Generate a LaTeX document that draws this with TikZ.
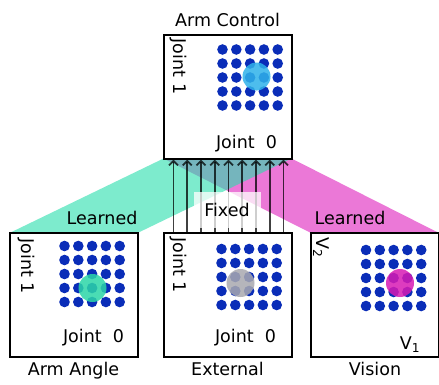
\documentclass[tikz,border=0pt]{standalone}
\usepackage{fontspec}
\setmainfont{DejaVu Sans}
\usepackage{tikz}
\usetikzlibrary{arrows.meta, positioning, calc, backgrounds}
\definecolor{dotblue}{HTML}{0A2DB8}
\definecolor{learnteal}{HTML}{26DEAC}
\definecolor{learnpink}{HTML}{DE1EBC}
\definecolor{ctrlcyan}{HTML}{2FB2EA}
\definecolor{angleteal}{HTML}{2BD6A8}
\definecolor{extgray}{HTML}{A9A9B0}
\definecolor{visionpink}{HTML}{D81AB4}

% 5x5 grid of units inside a panel: #1 panel, #2 offset of first unit
\newcommand{\dotgrid}[2]{%
  \foreach \i in {0,...,4}
    \foreach \j in {0,...,4}
      \fill[dotblue] ([shift={#2}]#1.north west) ++(\i*13.8,\j*14) circle(5.3pt);
}

\tikzset{
  panel/.style={draw, line width=2pt, fill=white, minimum width=128pt,
                minimum height=124pt, inner sep=0pt, outer sep=0pt},
  axislabel/.style={rotate=-90, inner sep=0pt},
  fixarrow/.style={-{Straight Barb[length=4.5pt,width=9pt]}, line width=1.8pt,
                   draw opacity=0.75},
  fixbox/.style={fill=white, fill opacity=0.75, text opacity=1,
                 minimum width=67pt, minimum height=36pt},
  every node/.append style={font=\fontsize{17.5}{20}\selectfont}
}

\begin{document}
\begin{tikzpicture}[x=1pt,y=-1pt]
\useasboundingbox (0,0) rectangle (439,384);

% Panels
\node[panel] (ctrl)   at (227.5,96.5) {};
\node[panel] (angle)  at (73.5,295)   {};
\node[panel] (ext)    at (227.5,295)  {};
\node[panel] (vision) at (375,295)    {};

% Titles
\node[above=4pt of ctrl]   (ctrltitle)   {Arm Control};
\node[below=2pt of angle]  (angletitle)  {Arm Angle};
\node[below=2pt of ext]    (exttitle)    {External};
\node[below=2pt of vision] (visiontitle) {Vision};

% Learned maps
\begin{scope}[on background layer]
\fill[learnpink, fill opacity=0.6] (ctrl.south west) -- (ctrl.south east)
  -- (vision.north east) -- (vision.north west) -- cycle;
\fill[learnteal, fill opacity=0.6] (ctrl.south west) -- (ctrl.south east)
  -- (angle.north east) -- (angle.north west) -- cycle;
\end{scope}

% Fixed one-to-one connections
\foreach \k in {0,...,8}
  \draw[fixarrow] ([xshift=10+\k*13.75]ext.north west) -- ([xshift=10+\k*13.75,yshift=-1pt]ctrl.south west);

% Unit grids
\dotgrid{ctrl}{(59,15)}
\dotgrid{angle}{(55,13)}
\dotgrid{ext}{(58,16)}
\dotgrid{vision}{(55,17)}

% Activity bumps
\fill[ctrlcyan, fill opacity=0.85] ([shift={(93,42)}]ctrl.north west) circle(14pt);
\fill[angleteal, fill opacity=0.85] ([shift={(83,55)}]angle.north west) circle(14pt);
\fill[extgray, fill opacity=0.85] ([shift={(77,50)}]ext.north west) circle(14pt);
\fill[visionpink, fill opacity=0.85] ([shift={(89,50)}]vision.north west) circle(14pt);

% Axis labels
\node[axislabel] (ctrlj1)  at ([shift={(15,32)}]ctrl.north west)  {Joint 1};
\node[axislabel] (anglej1) at ([shift={(17,33)}]angle.north west) {Joint 1};
\node[axislabel] (extj1)   at ([shift={(15,32)}]ext.north west)   {Joint 1};
\node[axislabel] (visv2)   at ([shift={(10,15)}]vision.north west) {V\textsubscript{2}};
\node (ctrlj0)  at ([shift={(-45,-15)}]ctrl.south east)  {Joint\ \ 0};
\node (anglej0) at ([shift={(-44,-19)}]angle.south east) {Joint\ \ 0};
\node (extj0)   at ([shift={(-46,-19)}]ext.south east)   {Joint\ \ 0};
\node (visv1)   at ([shift={(-29,-12)}]vision.south east) {V\textsubscript{1}};

% Map labels
\node (learnleft)  at (102,218) {Learned};
\node (learnright) at (350,218) {Learned};
\node[fixbox] (fixed) at (227,210) {Fixed};
\end{tikzpicture}
\end{document}
